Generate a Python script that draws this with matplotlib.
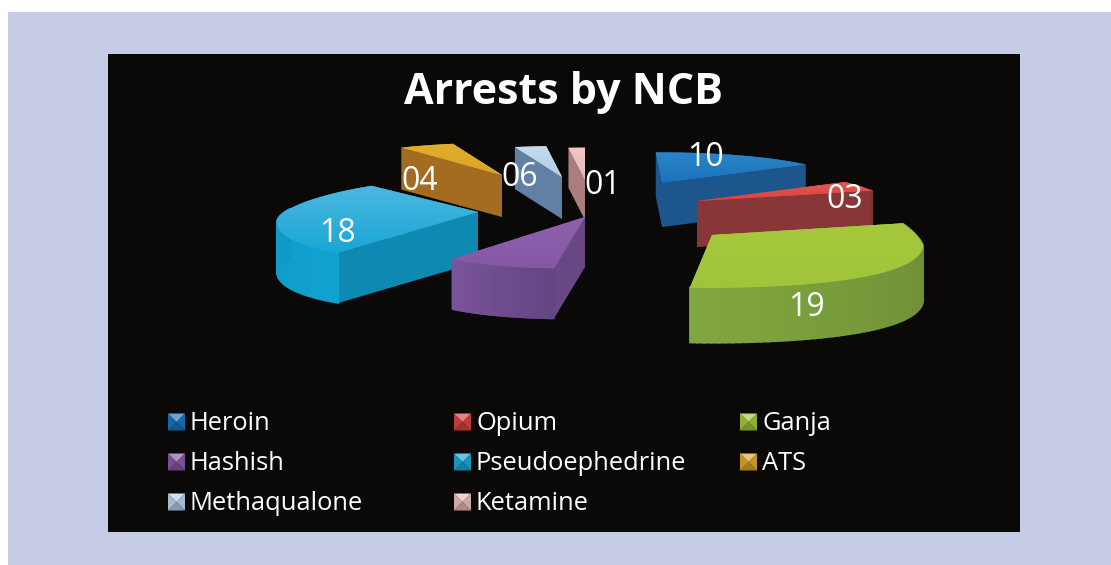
import numpy as np
import matplotlib
matplotlib.use("Agg")
import matplotlib.pyplot as plt
from matplotlib.patches import Polygon
from matplotlib.colors import LinearSegmentedColormap, to_rgb

# --- data ---
drugs = ["Heroin", "Opium", "Ganja", "Hashish", "Pseudoephedrine", "ATS", "Methaqualone", "Ketamine"]
value_labels = ["10", "03", "19", "", "18", "04", "06", "01"]
# drawn size of each slice, as it looks in the picture (not the same as the labels)
slice_sizes = [55, 18, 115, 38, 104, 17, 10, 5]

# --- layout, all in pixels of the 1111x565 image ---
W, H = 1111, 565
first_angle = -2
tips = [(662, 183), (697, 201), (712, 235), (585, 217), (478, 212), (502, 175), (562, 177), (585, 180)]
radius = [180, 185, 211, 178, 201, 190, 182, 190]
depth = [44, 46, 55, 50, 50, 42, 42, 40]
sag = [0, 0, 10, 10, 10, 0, 0, 0]
lean = [0, 0, 0, 0.07, 0, 0, 0, 0]
back_lean = [0, 0, 0.13, 0, 0, 0, 0, 0]
squash_back = [0.17, 0.17, 0.3, 0.17, 0.17, 0.17, 0.17, 0.17]
squash_front = [0.25, 0.25, 0.25, 0.29, 0.25, 0.25, 0.25, 0.25]
draw_order = [0, 5, 6, 7, 1, 4, 3, 2]
label_pos = [(705, 158), (845, 199), (806, 308), None, (337, 234), (420, 181), (520, 177), (603, 185)]

top_colors = ["#1b74ba", "#d9423f", "#a0c43a", "#8558a5", "#1aa6d4", "#dba525", "#b5cfe8", "#e6b9b8"]
top_light = ["#2a84c8", "#e05a55", "#a6c83c", "#8f62ae", "#4cb8e0", "#e0ad2c", "#c4daee", "#ecc8c6"]
side_colors = ["#1d5a94", "#8f3a3c", "#76983a", "#6d4b8c", "#0f90bb", "#ad7222", "#6587ad", "#b58484"]

plt.rcParams["font.family"] = ["Open Sans", "DejaVu Sans"]


def shade(color, f):
    return tuple(min(1, c * f) for c in to_rgb(color))


def tint(color, f):
    return tuple(c + (1 - c) * f for c in to_rgb(color))


def ground(i, a):
    tip, r = tips[i], radius[i]
    x = r * np.sin(a)
    y = r * np.cos(a)
    s = np.where(y > 0, squash_back[i], squash_front[i])
    sx = np.where(y < 0, lean[i] * y, -back_lean[i] * y)
    return tip[0] + x + sx, tip[1] - y * s + sag[i] * np.sin(a) ** 2


fig = plt.figure(figsize=(W / 100, H / 100), dpi=100, facecolor="white")
ax = fig.add_axes([0, 0, 1, 1])
ax.set_xlim(0, W)
ax.set_ylim(H, 0)
ax.axis("off")

ax.add_patch(Polygon([(8, 12), (W, 12), (W, H), (8, H)], fc="#c6cbe6", ec="none", zorder=0))
ax.add_patch(Polygon([(108, 54), (1020, 54), (1020, 532), (108, 532)], fc="#0a0908", ec="none", zorder=1))

ax.text(564, 93, "Arrests by NCB", color="white", fontsize=31, fontweight="bold",
        ha="center", va="center", zorder=50)

edges = first_angle + np.cumsum([0] + slice_sizes) * 362.0 / sum(slice_sizes)
z = 2
for i in draw_order:
    a1, a2 = np.radians(edges[i]), np.radians(edges[i + 1])
    tip, d = tips[i], depth[i]
    arc = np.linspace(a1, a2, 60)
    ax_x, ax_y = ground(i, arc)
    side = side_colors[i]

    # the two cut faces
    for a in (a1, a2):
        ex, ey = ground(i, a)
        ax.add_patch(Polygon([tip, (ex, ey), (ex, ey + d), (tip[0], tip[1] + d)],
                             fc=shade(side, 0.95), ec="none", zorder=z))
        z += 1

    # rim, only the part that faces the viewer
    for k in range(len(arc) - 1):
        if np.cos(arc[k]) > 0.35:
            continue
        t = k / len(arc)
        f = 1.12 - 0.22 * t
        if i == 2:
            f = 0.9 + 0.2 * t
        if i == 3:
            f = 0.92 + 0.2 * t
        if i == 4:
            f = 1.12 - 0.1 * t
        ax.add_patch(Polygon([(ax_x[k], ax_y[k]), (ax_x[k + 1], ax_y[k + 1]),
                              (ax_x[k + 1], ax_y[k + 1] + d), (ax_x[k], ax_y[k] + d)],
                             fc=shade(side, f), ec=shade(side, f), lw=1.2, zorder=z))
    z += 1

    # top face with a soft vertical gradient
    top = Polygon(np.vstack([tip, np.column_stack([ax_x, ax_y])]), fc=top_colors[i], ec="none", zorder=z)
    ax.add_patch(top)
    xs = np.append(ax_x, tip[0])
    ys = np.append(ax_y, tip[1])
    cmap = LinearSegmentedColormap.from_list("t", [top_light[i], top_colors[i]])
    im = ax.imshow(np.linspace(0, 1, 64).reshape(-1, 1), cmap=cmap, aspect="auto",
                   extent=(xs.min(), xs.max(), ys.max(), ys.min()), zorder=z + 1)
    im.set_clip_path(top)
    z += 2

ax.set_xlim(0, W)
ax.set_ylim(H, 0)

for txt, pos in zip(value_labels, label_pos):
    if pos:
        ax.text(pos[0], pos[1], txt, color="white", fontsize=23, ha="center", va="center", zorder=60)

# legend, little pyramids like the office style markers
for i, name in enumerate(drugs):
    col, row = i % 3, i // 3
    x0 = 168 + col * 286
    y0 = 422 + row * 40
    c = top_colors[i]
    s = 8.5
    corners = [(x0, y0 - s), (x0 + 2 * s, y0 - s), (x0 + 2 * s, y0 + s), (x0, y0 + s)]
    mid = (x0 + s, y0)
    faces = [tint(c, 0.35), shade(c, 0.9), shade(c, 0.75), shade(c, 0.9)]
    for k, fc in enumerate(faces):
        ax.add_patch(Polygon([corners[k], corners[(k + 1) % 4], mid], fc=fc, ec="none", zorder=60))
    ax.text(x0 + 22, y0 + 1.5, name, color="white", fontsize=18.4, ha="left", va="center", zorder=60)

fig.savefig("out.png", dpi=100, facecolor=fig.get_facecolor())
